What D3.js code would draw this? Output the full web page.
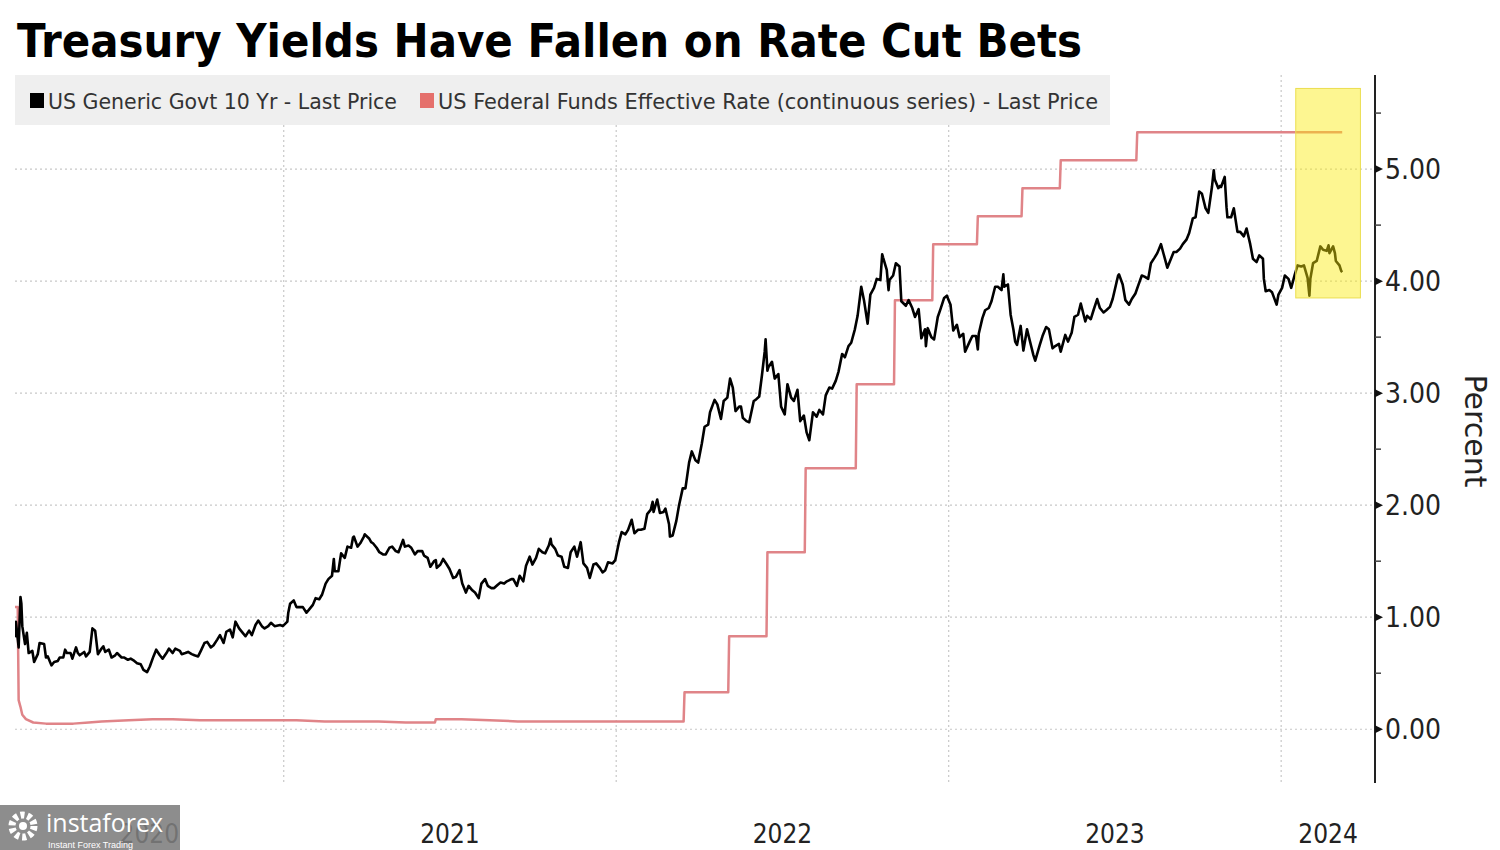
<!DOCTYPE html>
<html><head><meta charset="utf-8">
<script src="https://cdn.jsdelivr.net/npm/d3@7"></script>
<style>
html,body{margin:0;padding:0;background:#fff;}
svg{display:block;}
</style></head>
<body>
<svg id="chart" width="1500" height="850"></svg>
<script>
// ---------- DATA ----------
const title = "Treasury Yields Have Fallen on Rate Cut Bets";
const seriesNames = ["US Generic Govt 10 Yr - Last Price", "US Federal Funds Effective Rate (continuous series) - Last Price"];
const yTicks = [0, 1, 2, 3, 4, 5];
const yMinorTicks = [0.5, 1.5, 2.5, 3.5, 4.5, 5.5];
const yearBoundaries = ["2021-01-01", "2022-01-01", "2023-01-01", "2024-01-01"];
const yearLabels = ["2020", "2021", "2022", "2023", "2024"];
const yAxisTitle = "Percent";
const highlightRange = ["2024-01-17", "2024-03-28"];
const highlightValues = [3.85, 5.72];

const tenYr2020 = [
["2020-03-12",0.82],["2020-03-13",0.96],["2020-03-16",0.73],["2020-03-18",1.18],["2020-03-19",1.12],["2020-03-20",0.92],
["2020-03-23",0.76],["2020-03-25",0.86],["2020-03-27",0.68],["2020-03-31",0.70],["2020-04-02",0.60],["2020-04-06",0.67],
["2020-04-08",0.77],["2020-04-13",0.76],["2020-04-15",0.64],["2020-04-17",0.65],["2020-04-21",0.57],["2020-04-24",0.60],
["2020-04-28",0.61],["2020-04-30",0.64],["2020-05-04",0.64],["2020-05-06",0.71],["2020-05-08",0.68],["2020-05-12",0.68],
["2020-05-14",0.63],["2020-05-18",0.73],["2020-05-20",0.68],["2020-05-22",0.66],["2020-05-27",0.69],["2020-05-29",0.65],
["2020-06-02",0.69],["2020-06-05",0.90],["2020-06-08",0.88],["2020-06-11",0.67],["2020-06-15",0.72],["2020-06-17",0.74],
["2020-06-19",0.69],["2020-06-23",0.71],["2020-06-26",0.64],["2020-06-30",0.66],["2020-07-02",0.68],["2020-07-07",0.64],
["2020-07-10",0.64],["2020-07-14",0.62],["2020-07-17",0.63],["2020-07-21",0.61],["2020-07-24",0.59],["2020-07-28",0.58],
["2020-07-31",0.53],["2020-08-04",0.51],["2020-08-07",0.56],["2020-08-11",0.65],["2020-08-14",0.71],["2020-08-18",0.66],
["2020-08-21",0.63],["2020-08-26",0.69],["2020-08-28",0.72],["2020-09-01",0.68],["2020-09-04",0.72],["2020-09-09",0.70],
["2020-09-11",0.67],["2020-09-15",0.68],["2020-09-18",0.69],["2020-09-22",0.67],["2020-09-25",0.66],["2020-09-29",0.65],
["2020-10-02",0.70],["2020-10-06",0.77],["2020-10-09",0.78],["2020-10-13",0.73],["2020-10-16",0.75],["2020-10-20",0.80],
["2020-10-23",0.84],["2020-10-27",0.77],["2020-10-30",0.87],["2020-11-03",0.89],["2020-11-06",0.82],["2020-11-09",0.96],
["2020-11-13",0.90],["2020-11-17",0.86],["2020-11-20",0.83],["2020-11-24",0.88],["2020-11-27",0.84],["2020-12-01",0.93],
["2020-12-04",0.97],["2020-12-08",0.92],["2020-12-11",0.90],["2020-12-15",0.92],["2020-12-18",0.95],["2020-12-22",0.92],
["2020-12-28",0.93],["2020-12-31",0.92]
];
const tenYr2021 = [
["2021-01-05",0.96],["2021-01-06",1.04],["2021-01-08",1.12],["2021-01-12",1.15],["2021-01-15",1.09],["2021-01-19",1.09],
["2021-01-22",1.09],["2021-01-26",1.04],["2021-01-29",1.07],["2021-02-02",1.11],["2021-02-05",1.17],["2021-02-09",1.16],
["2021-02-12",1.20],["2021-02-16",1.30],["2021-02-19",1.34],["2021-02-23",1.37],["2021-02-25",1.52],["2021-02-26",1.41],
["2021-03-02",1.41],["2021-03-05",1.57],["2021-03-09",1.53],["2021-03-12",1.63],["2021-03-16",1.62],["2021-03-18",1.71],
["2021-03-19",1.72],["2021-03-23",1.63],["2021-03-26",1.66],["2021-03-30",1.72],["2021-03-31",1.74],["2021-04-05",1.70],
["2021-04-07",1.67],["2021-04-09",1.66],["2021-04-13",1.62],["2021-04-16",1.58],["2021-04-20",1.56],["2021-04-23",1.56],
["2021-04-27",1.62],["2021-04-30",1.63],["2021-05-04",1.59],["2021-05-07",1.58],["2021-05-12",1.69],["2021-05-14",1.63],
["2021-05-18",1.64],["2021-05-21",1.62],["2021-05-25",1.56],["2021-05-28",1.59],["2021-06-02",1.59],["2021-06-04",1.55],
["2021-06-08",1.53],["2021-06-11",1.45],["2021-06-15",1.50],["2021-06-17",1.51],["2021-06-18",1.44],["2021-06-22",1.47],
["2021-06-25",1.52],["2021-06-29",1.47],["2021-07-02",1.43],["2021-07-06",1.35],["2021-07-09",1.36],["2021-07-13",1.42],
["2021-07-16",1.30],["2021-07-20",1.22],["2021-07-23",1.28],["2021-07-27",1.24],["2021-07-30",1.22],["2021-08-03",1.17],
["2021-08-06",1.30],["2021-08-10",1.34],["2021-08-13",1.28],["2021-08-17",1.26],["2021-08-20",1.26],["2021-08-24",1.29],
["2021-08-27",1.31],["2021-08-31",1.30],["2021-09-03",1.32],["2021-09-08",1.34],["2021-09-10",1.34],["2021-09-14",1.28],
["2021-09-17",1.37],["2021-09-21",1.32],["2021-09-24",1.46],["2021-09-28",1.54],["2021-10-01",1.47],["2021-10-05",1.53],
["2021-10-08",1.61],["2021-10-12",1.58],["2021-10-15",1.57],["2021-10-19",1.64],["2021-10-21",1.70],["2021-10-22",1.65],
["2021-10-26",1.61],["2021-10-29",1.55],["2021-11-02",1.54],["2021-11-05",1.45],["2021-11-09",1.44],["2021-11-12",1.58],
["2021-11-16",1.63],["2021-11-19",1.54],["2021-11-23",1.67],["2021-11-26",1.48],["2021-11-30",1.44],["2021-12-03",1.35],
["2021-12-07",1.47],["2021-12-10",1.48],["2021-12-14",1.44],["2021-12-17",1.40],["2021-12-20",1.42],["2021-12-23",1.49],
["2021-12-28",1.48],["2021-12-31",1.51]
];
const tenYr2022 = [
["2022-01-04",1.67],["2022-01-07",1.76],["2022-01-11",1.74],["2022-01-14",1.78],["2022-01-18",1.87],["2022-01-21",1.75],
["2022-01-25",1.78],["2022-01-28",1.78],["2022-02-01",1.79],["2022-02-04",1.92],["2022-02-08",1.96],["2022-02-10",2.03],
["2022-02-11",1.94],["2022-02-15",2.05],["2022-02-18",1.93],["2022-02-22",1.94],["2022-02-24",1.97],["2022-02-28",1.83],
["2022-03-01",1.72],["2022-03-04",1.73],["2022-03-08",1.86],["2022-03-11",2.00],["2022-03-15",2.15],["2022-03-18",2.15],
["2022-03-22",2.38],["2022-03-25",2.48],["2022-03-29",2.40],["2022-04-01",2.38],["2022-04-05",2.55],["2022-04-08",2.70],
["2022-04-12",2.72],["2022-04-14",2.83],["2022-04-19",2.94],["2022-04-22",2.90],["2022-04-26",2.77],["2022-04-29",2.93],
["2022-05-03",2.96],["2022-05-06",3.13],["2022-05-09",3.05],["2022-05-12",2.84],["2022-05-16",2.88],["2022-05-18",2.88],
["2022-05-20",2.78],["2022-05-24",2.75],["2022-05-27",2.74],["2022-06-01",2.93],["2022-06-03",2.94],["2022-06-07",2.97],
["2022-06-10",3.16],["2022-06-13",3.37],["2022-06-14",3.48],["2022-06-16",3.20],["2022-06-17",3.23],["2022-06-21",3.28],
["2022-06-24",3.13],["2022-06-28",3.17],["2022-07-01",2.88],["2022-07-05",2.81],["2022-07-08",3.08],["2022-07-12",2.96],
["2022-07-15",2.93],["2022-07-19",3.03],["2022-07-22",2.75],["2022-07-26",2.80],["2022-07-29",2.65],["2022-08-01",2.58],
["2022-08-05",2.83],["2022-08-09",2.79],["2022-08-12",2.85],["2022-08-16",2.81],["2022-08-19",2.98],["2022-08-23",3.05],
["2022-08-26",3.04],["2022-08-30",3.11],["2022-09-02",3.19],["2022-09-06",3.35],["2022-09-09",3.32],["2022-09-13",3.42],
["2022-09-16",3.45],["2022-09-20",3.57],["2022-09-23",3.69],["2022-09-27",3.95],["2022-09-30",3.83],["2022-10-04",3.62],
["2022-10-07",3.88],["2022-10-11",3.94],["2022-10-14",4.02],["2022-10-18",4.01],["2022-10-20",4.24],["2022-10-21",4.21],
["2022-10-25",4.10],["2022-10-27",3.92],["2022-10-28",4.01],["2022-11-01",4.05],["2022-11-04",4.16],["2022-11-08",4.13],
["2022-11-10",3.82],["2022-11-15",3.78],["2022-11-18",3.83],["2022-11-22",3.76],["2022-11-25",3.68],["2022-11-29",3.75],
["2022-12-02",3.49],["2022-12-06",3.57],["2022-12-07",3.42],["2022-12-09",3.58],["2022-12-13",3.50],["2022-12-16",3.48],
["2022-12-20",3.68],["2022-12-23",3.75],["2022-12-27",3.85],["2022-12-30",3.87]
];
const tenYr2023 = [
["2023-01-03",3.79],["2023-01-06",3.56],["2023-01-10",3.61],["2023-01-13",3.50],["2023-01-17",3.53],["2023-01-19",3.37],
["2023-01-24",3.46],["2023-01-27",3.51],["2023-01-31",3.51],["2023-02-02",3.39],["2023-02-03",3.53],["2023-02-07",3.67],
["2023-02-10",3.74],["2023-02-14",3.76],["2023-02-17",3.82],["2023-02-21",3.95],["2023-02-24",3.95],["2023-02-28",3.92],
["2023-03-02",4.06],["2023-03-03",3.95],["2023-03-07",3.97],["2023-03-10",3.70],["2023-03-13",3.57],["2023-03-15",3.46],
["2023-03-17",3.43],["2023-03-21",3.60],["2023-03-24",3.38],["2023-03-28",3.57],["2023-03-31",3.47],["2023-04-04",3.34],
["2023-04-06",3.29],["2023-04-11",3.43],["2023-04-14",3.51],["2023-04-18",3.59],["2023-04-21",3.57],["2023-04-25",3.40],
["2023-04-28",3.42],["2023-05-02",3.44],["2023-05-04",3.37],["2023-05-09",3.52],["2023-05-12",3.46],["2023-05-16",3.54],
["2023-05-19",3.68],["2023-05-23",3.70],["2023-05-26",3.80],["2023-05-31",3.64],["2023-06-02",3.69],["2023-06-06",3.66],
["2023-06-09",3.74],["2023-06-13",3.84],["2023-06-16",3.76],["2023-06-20",3.72],["2023-06-23",3.74],["2023-06-27",3.77],
["2023-06-30",3.84],["2023-07-06",4.05],["2023-07-07",4.06],["2023-07-11",3.97],["2023-07-14",3.83],["2023-07-18",3.79],
["2023-07-21",3.84],["2023-07-25",3.89],["2023-07-28",3.96],["2023-08-01",4.05],["2023-08-04",4.04],["2023-08-08",4.02],
["2023-08-11",4.16],["2023-08-15",4.21],["2023-08-18",4.25],["2023-08-22",4.33],["2023-08-25",4.24],["2023-08-29",4.12],
["2023-09-01",4.18],["2023-09-05",4.26],["2023-09-08",4.26],["2023-09-12",4.29],["2023-09-15",4.33],["2023-09-19",4.37],
["2023-09-22",4.43],["2023-09-26",4.56],["2023-09-29",4.57],["2023-10-03",4.80],["2023-10-06",4.78],["2023-10-10",4.65],
["2023-10-13",4.61],["2023-10-17",4.84],["2023-10-19",4.99],["2023-10-20",4.91],["2023-10-23",4.85],["2023-10-24",4.83],
["2023-10-26",4.85],["2023-10-27",4.84],["2023-10-31",4.93],["2023-11-02",4.66],["2023-11-03",4.57],["2023-11-07",4.57],
["2023-11-10",4.65],["2023-11-14",4.44],["2023-11-17",4.44],["2023-11-21",4.40],["2023-11-24",4.47],["2023-11-28",4.33],
["2023-12-01",4.20],["2023-12-05",4.17],["2023-12-08",4.23],["2023-12-12",4.20],["2023-12-13",4.02],["2023-12-15",3.91],
["2023-12-19",3.92],["2023-12-22",3.90],["2023-12-27",3.79],["2023-12-29",3.88]
];
const tenYr2024 = [
["2024-01-02",3.94],["2024-01-05",4.05],["2024-01-09",4.02],["2024-01-12",3.94],["2024-01-16",4.06],["2024-01-19",4.14],
["2024-01-23",4.13],["2024-01-26",4.14],["2024-01-30",4.03],["2024-02-01",3.87],["2024-02-02",4.02],["2024-02-05",4.16],
["2024-02-09",4.18],["2024-02-13",4.31],["2024-02-16",4.28],["2024-02-20",4.27],["2024-02-22",4.32],["2024-02-23",4.25],
["2024-02-27",4.31],["2024-02-29",4.25],["2024-03-01",4.18],["2024-03-05",4.14],["2024-03-07",4.09],["2024-03-08",4.08]
];
const fedFunds = [
["2020-03-12",1.09],["2020-03-15",1.09],["2020-03-16",0.26],["2020-03-18",0.20],["2020-03-20",0.13],["2020-03-24",0.09],
["2020-04-01",0.06],["2020-04-15",0.05],["2020-05-15",0.05],["2020-06-01",0.06],["2020-06-15",0.07],["2020-07-15",0.08],
["2020-08-10",0.09],["2020-09-01",0.09],["2020-10-01",0.08],["2020-11-01",0.08],["2020-12-01",0.08],["2020-12-31",0.08],
["2021-01-15",0.08],["2021-02-15",0.07],["2021-03-15",0.07],["2021-04-15",0.07],["2021-05-15",0.06],["2021-06-16",0.06],
["2021-06-17",0.09],["2021-07-15",0.09],["2021-08-15",0.08],["2021-09-15",0.07],["2021-10-15",0.07],["2021-12-15",0.07],
["2022-03-16",0.07],["2022-03-17",0.33],["2022-05-04",0.33],["2022-05-05",0.83],["2022-06-15",0.83],["2022-06-16",1.58],
["2022-07-27",1.58],["2022-07-28",2.33],["2022-09-21",2.33],["2022-09-22",3.08],["2022-11-02",3.08],["2022-11-03",3.83],
["2022-12-14",3.83],["2022-12-15",4.33],["2023-02-01",4.33],["2023-02-02",4.58],["2023-03-22",4.58],["2023-03-23",4.83],
["2023-05-03",4.83],["2023-05-04",5.08],["2023-07-26",5.08],["2023-07-27",5.33],["2024-03-08",5.33]
];

// ---------- CHART ----------
const parse = d3.utcParse("%Y-%m-%d");
const tenYr = [...tenYr2020, ...tenYr2021, ...tenYr2022, ...tenYr2023, ...tenYr2024].map(d => ({date: parse(d[0]), value: d[1]}));
const ffr = fedFunds.map(d => ({date: parse(d[0]), value: d[1]}));

const svg = d3.select("#chart");
const plotLeft = 15, plotRight = 1375, plotTop = 75, plotBottom = 783;
const domainStart = parse("2020-03-12"), domainEnd = parse("2024-04-13");

const x = d3.scaleUtc().domain([domainStart, domainEnd]).range([plotLeft, plotRight]);
const y = d3.scaleLinear().domain([-0.48, 5.84]).range([plotBottom, plotTop]);

const sansC = "'DejaVu Sans Condensed','DejaVu Sans',sans-serif";

// title
svg.append("text").attr("x", 17).attr("y", 57)
  .attr("font-family", "'DejaVu Sans',sans-serif").attr("font-weight", "bold")
  .attr("font-size", 46).attr("fill", "#000")
  .attr("textLength", 1065).attr("lengthAdjust", "spacingAndGlyphs")
  .text(title);

// gridlines
const grid = svg.append("g");
grid.selectAll("line.h").data(yTicks).join("line")
  .attr("x1", plotLeft).attr("x2", plotRight)
  .attr("y1", d => y(d)).attr("y2", d => y(d))
  .attr("stroke", "#c8c8c8").attr("stroke-width", 1.2).attr("stroke-dasharray", "2,3");
grid.selectAll("line.v").data(yearBoundaries.map(parse)).join("line")
  .attr("x1", d => x(d)).attr("x2", d => x(d))
  .attr("y1", plotTop).attr("y2", plotBottom)
  .attr("stroke", "#c8c8c8").attr("stroke-width", 1.2).attr("stroke-dasharray", "2,3");

// legend
const lg = svg.append("g");
lg.append("rect").attr("x", 15).attr("y", 75).attr("width", 1095).attr("height", 50).attr("fill", "#efefef");
lg.append("rect").attr("x", 30).attr("y", 93).attr("width", 14).attr("height", 15).attr("fill", "#000");
lg.append("text").attr("x", 48).attr("y", 109).attr("font-family", sansC).attr("font-size", 22).attr("fill", "#333")
  .attr("textLength", 349).attr("lengthAdjust", "spacingAndGlyphs").text(seriesNames[0]);
lg.append("rect").attr("x", 420).attr("y", 93).attr("width", 14).attr("height", 15).attr("fill", "#e5706c");
lg.append("text").attr("x", 438).attr("y", 109).attr("font-family", sansC).attr("font-size", 22).attr("fill", "#333")
  .attr("textLength", 660).attr("lengthAdjust", "spacingAndGlyphs").text(seriesNames[1]);

// lines
svg.append("clipPath").attr("id", "clip").append("rect")
  .attr("x", plotLeft).attr("y", plotTop).attr("width", plotRight - plotLeft).attr("height", plotBottom - plotTop);
const line = d3.line().x(d => x(d.date)).y(d => y(d.value));
const lines = svg.append("g").attr("clip-path", "url(#clip)");
lines.append("path").datum(ffr).attr("d", line).attr("fill", "none")
  .attr("stroke", "#e08488").attr("stroke-width", 2.5).attr("stroke-linejoin", "round");
lines.append("path").datum(tenYr).attr("d", line).attr("fill", "none")
  .attr("stroke", "#000").attr("stroke-width", 2.6).attr("stroke-linejoin", "round");

// highlight box
const hx0 = x(parse(highlightRange[0])), hx1 = x(parse(highlightRange[1]));
svg.append("rect").attr("x", hx0).attr("y", y(highlightValues[1]))
  .attr("width", hx1 - hx0).attr("height", y(highlightValues[0]) - y(highlightValues[1]))
  .attr("fill", "rgb(250,234,10)").attr("fill-opacity", 0.45)
  .attr("stroke", "rgb(235,222,80)").attr("stroke-width", 1);

// right axis
const ax = svg.append("g");
ax.append("line").attr("x1", plotRight).attr("x2", plotRight).attr("y1", plotTop).attr("y2", plotBottom)
  .attr("stroke", "#222").attr("stroke-width", 2);
ax.selectAll("line.minor").data(yMinorTicks).join("line")
  .attr("x1", plotRight).attr("x2", plotRight + 6).attr("y1", d => y(d)).attr("y2", d => y(d))
  .attr("stroke", "#444").attr("stroke-width", 1.5);
ax.selectAll("path.major").data(yTicks).join("path")
  .attr("d", d => `M${plotRight},${y(d) - 4}L${plotRight + 8},${y(d)}L${plotRight},${y(d) + 4}Z`)
  .attr("fill", "#111");
ax.selectAll("text.tl").data(yTicks).join("text")
  .attr("x", plotRight + 10).attr("y", d => y(d)).attr("dy", "0.36em")
  .attr("font-family", sansC).attr("font-size", 28).attr("fill", "#222")
  .text(d => d3.format(".2f")(d));
svg.append("text").attr("transform", "translate(1465,431) rotate(90)")
  .attr("text-anchor", "middle").attr("font-family", "'DejaVu Sans',sans-serif").attr("font-size", 30).attr("fill", "#222")
  .text(yAxisTitle);

// x labels (centered in each visible year span)
const yearEdges = [domainStart, ...yearBoundaries.map(parse), domainEnd];
svg.selectAll("text.xl").data(yearLabels).join("text")
  .attr("x", (d, i) => (x(yearEdges[i]) + x(yearEdges[i + 1])) / 2)
  .attr("y", 843).attr("text-anchor", "middle")
  .attr("font-family", sansC).attr("font-size", 26).attr("fill", "#222")
  .text(d => d);

// watermark (semi-transparent, label 2020 shows faintly beneath)
const wm = svg.append("g");
wm.append("rect").attr("x", 0).attr("y", 805).attr("width", 180).attr("height", 45).attr("fill", "#7d7d7d").attr("fill-opacity", 0.88);
wm.append("circle").attr("cx", 23).attr("cy", 826).attr("r", 11).attr("fill", "none")
  .attr("stroke", "#fff").attr("stroke-width", 7).attr("stroke-dasharray", "4,3");
wm.append("circle").attr("cx", 23).attr("cy", 826).attr("r", 4).attr("fill", "#fff");
wm.append("text").attr("x", 46).attr("y", 832).attr("font-family", "'Open Sans',sans-serif")
  .attr("font-size", 25).attr("fill", "#fff").text("instaforex");
wm.append("text").attr("x", 48).attr("y", 848).attr("font-family", "'Liberation Sans',sans-serif")
  .attr("font-size", 9).attr("fill", "#fff").text("Instant Forex Trading");
</script>
</body></html>
